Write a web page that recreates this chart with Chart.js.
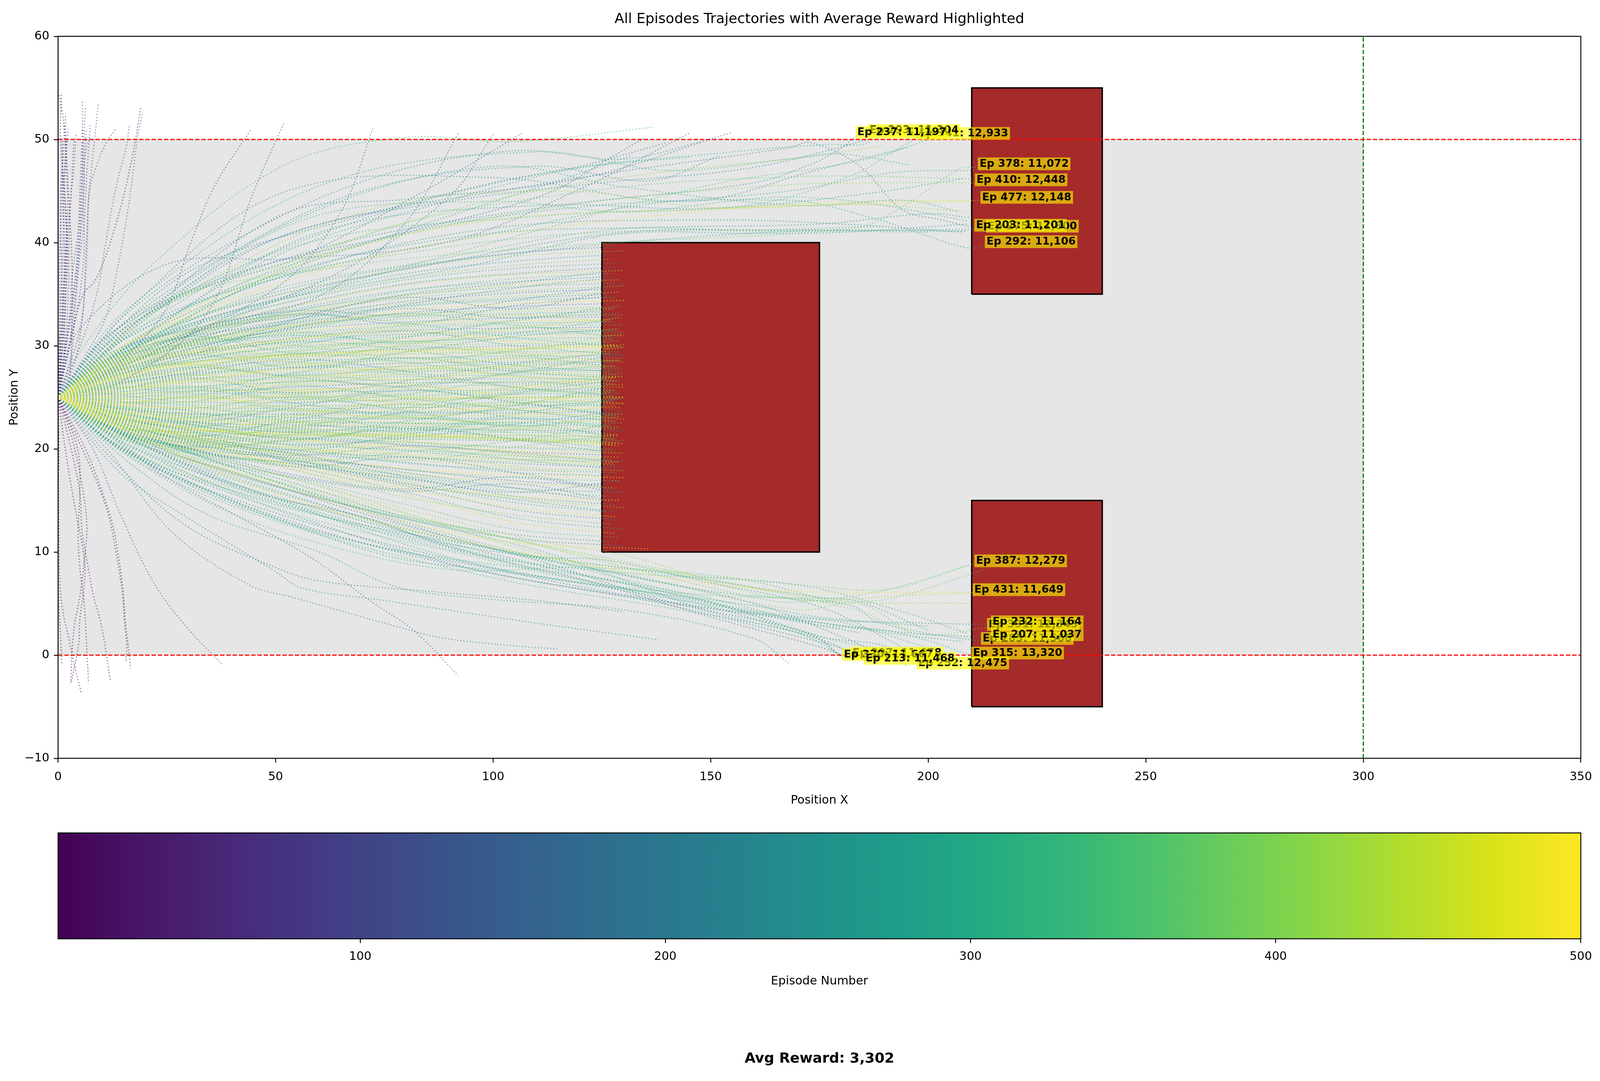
<!DOCTYPE html>
<html>
<head>
<meta charset="utf-8">
<title>All Episodes Trajectories</title>
<script src="https://cdn.jsdelivr.net/npm/chart.js@4"></script>
<style>
    html, body { margin: 0; padding: 0; background: #ffffff; overflow: hidden; }
    canvas { display: block; }
</style>
</head>
<body>
<canvas id="trajectories"></canvas>
<canvas id="colorbar"></canvas>
<script>
(function(){
    let avgReward = 3302;
    let xTicks = [0, 50, 100, 150, 200, 250, 300, 350];
    let yTicks = [-10, 0, 10, 20, 30, 40, 50, 60];
    let colorbarTicks = [100, 200, 300, 400, 500];
    let firstEpisode = 1;
    let lastEpisode = 500;

    // x0, y0, x1, y1
    let safeZone = [0, 0, 300, 50];
    let obstacles = [
        [125, 10, 175, 40],
        [210, 35, 240, 55],
        [210, -5, 240, 15]
    ];
    let boundaryY = [0, 50];
    let finishX = 300;

    let viridisStops = [
        '#440154', '#481668', '#482878', '#443983', '#3e4a89', '#375a8c',
        '#31688e', '#2b758e', '#26828e', '#21918c', '#1f9e89', '#25ab82',
        '#35b779', '#4ec36b', '#6ece58', '#90d743', '#b5de2b', '#dae319', '#fde725'
    ];

    // all of these leave from x=0, y=25
    let fanStationsX = [12, 30, 55, 80, 105];
    // episode, y at each station, last y, last x
    let fanRuns = [
        [214,21.5,19,15.8,13.2,11.3,10.6,130],
        [268,21.9,19.6,16.6,13.4,11.7,11,127],
        [342,22.3,19.3,17.1,14.6,12.2,11.4,129],
        [486,22.6,19.2,15.9,12.9,10.9,10.3,136],
        [455,22.8,20.4,17.9,15.6,12.9,11.8,128],
        [305,22.1,20,18.2,15.8,13.3,12.2,130],
        [388,23,20.9,17.9,15.3,13.6,12.7,127],
        [236,22.4,19.8,18.5,16.4,14.1,13.1,129],
        [478,23.2,21.1,18.2,16.1,14.3,13.4,128],
        [322,22.7,20.6,18.8,16.7,14.8,13.9,126],
        [419,23.3,21.2,19.1,16.9,15.2,14.3,130],
        [254,22.9,20.8,19.4,17.3,15.4,14.6,128],
        [491,22.4,20.3,18.4,16.5,15.4,15,129],
        [361,22.1,19.9,18.5,17.2,15.9,15.4,127],
        [283,22.5,20.4,18.8,17.4,16.2,15.8,130],
        [446,22.7,20.7,18.9,17.6,16.7,16.2,128],
        [198,22.3,20.1,19.1,18,16.9,16.5,126],
        [372,22.6,20.8,19.3,18,17.2,16.9,129],
        [499,22.9,21,19.4,18.1,17.5,17.2,130],
        [262,22.8,20.9,19.6,18.7,17.7,17.4,127],
        [331,23,21.2,19.9,18.6,18,17.7,128],
        [428,22.7,21.1,20,19,18.2,17.9,130],
        [229,23.1,21.3,19.8,19.2,18.6,18.2,129],
        [406,23.2,21.6,20.3,19.3,18.8,18.4,126],
        [475,23,21.4,20.1,19.5,19,18.6,128],
        [294,23.3,21.7,20.6,19.8,19,18.8,130],
        [351,23.1,21.8,20.4,19.9,19.3,19,127],
        [438,23.4,22,20.8,20,19.4,19.2,129],
        [182,23.2,21.9,21,20.4,19.7,19.4,126],
        [467,23.5,22.1,21,20.2,19.8,19.6,130],
        [312,23.3,22,21.1,20.6,20.1,19.8,128],
        [395,23.6,22.3,21.2,20.7,20.2,20,127],
        [452,23.4,21.9,21.3,21.2,20.8,20.3,129],
        [453,23.4,22,21.4,21.3,20.9,20.4,128],
        [454,23.5,22.1,21.5,21.3,20.9,20.5,130],
        [456,23.5,22,21.5,21.4,21,20.6,129],
        [247,23.4,22.2,21.6,21,20.8,20.7,127],
        [366,23.6,22.5,21.8,21.2,21,20.8,130],
        [410,23.7,22.6,21.7,21.4,21.1,21,128],
        [276,23.5,22.4,21.9,21.6,21.3,21.2,126],
        [483,23.8,22.8,22.1,21.5,21.3,21.3,129],
        [335,23.7,22.7,22,21.8,21.6,21.5,127],
        [219,23.6,22.6,22.3,22,21.8,21.7,130],
        [398,23.9,23,22.4,22,21.9,21.9,128],
        [443,23.8,22.9,22.5,22.2,22.1,22.1,129],
        [301,23.8,23.1,22.6,22.5,22.3,22.3,126],
        [347,24,23.2,22.8,22.5,22.5,22.5,130],
        [471,23.9,23.2,22.7,22.6,22.7,22.7,128],
        [258,24,23.4,23,22.9,22.9,22.9,127],
        [382,24.1,23.5,23.1,23,23.1,23.2,129],
        [424,24.1,23.6,23.3,23.2,23.3,23.4,130],
        [192,24,23.4,23.4,23.5,23.5,23.6,127],
        [338,24.2,23.8,23.6,23.6,23.7,23.8,128],
        [493,24.3,23.9,23.7,23.8,23.9,24,129],
        [288,24.3,24,23.9,24,24.2,24.2,126],
        [415,24.4,24.1,24.1,24.2,24.3,24.4,130],
        [357,24.5,24.3,24.2,24.3,24.5,24.6,128],
        [449,24.6,24.6,24.7,24.8,24.9,25,129],
        [450,24.7,24.8,25,25,25,25,130],
        [451,24.9,25,25,25,25,25,130],
        [242,24.6,24.5,24.5,24.8,25,25.2,127],
        [327,24.8,24.9,25.1,25.2,25.3,25.4,129],
        [402,25,25.1,25.3,25.4,25.5,25.6,128],
        [268,25,25.3,25.5,25.6,25.7,25.8,126],
        [469,25.2,25.5,25.7,25.8,25.9,26,130],
        [375,25.2,25.6,25.8,26,26.2,26.2,128],
        [206,25.3,25.5,26,26.4,26.4,26.4,127],
        [432,25.4,25.8,26.2,26.4,26.5,26.6,129],
        [296,25.5,26,26.5,26.7,26.8,26.8,126],
        [481,25.6,26.2,26.6,26.8,27,27,130],
        [349,25.7,26.4,26.8,27,27.2,27.2,128],
        [412,25.8,26.5,27,27.2,27.4,27.4,127],
        [251,25.8,26.7,27.2,27.5,27.6,27.6,129],
        [364,26,26.8,27.4,27.7,27.8,27.8,130],
        [459,26.1,27,27.6,27.8,28,28,128],
        [319,26.1,27.1,27.8,28,28.2,28.2,126],
        [225,26.2,27.3,27.9,28.3,28.4,28.4,127],
        [437,26.4,27.5,28.2,28.4,28.6,28.6,129],
        [384,26.4,27.6,28.3,28.6,28.8,28.8,130],
        [279,26.5,27.8,28.5,28.8,29,29,128],
        [473,26.6,28,28.7,29.2,29.2,29.2,127],
        [340,26.7,28,28.9,29.2,29.4,29.4,129],
        [460,26.8,28.2,29,29.4,29.6,29.9,130],
        [461,26.8,28.3,29.1,29.5,29.7,30,129],
        [458,26.9,28.3,29.1,29.6,29.7,30.1,130],
        [457,26.9,28.4,29.2,29.6,29.8,30.1,128],
        [234,26.8,28.4,29.2,29.7,30,30.2,127],
        [393,27,28.6,29.5,30,30.2,30.4,126],
        [425,27.1,28.8,29.8,30.2,30.5,30.6,128],
        [308,27,28.6,29.9,30.4,30.7,30.8,129],
        [489,27.3,29.1,30.1,30.6,30.9,31,130],
        [355,27.3,29.2,30.3,30.9,31.1,31.2,127],
        [265,27.2,29.1,30.5,31.1,31.3,31.4,128],
        [441,27.5,29.4,30.7,31.2,31.5,31.6,129],
        [189,27.3,29.2,30.8,31.5,31.7,31.8,126],
        [378,27.6,29.7,31,31.7,32,32,130],
        [325,27.7,29.9,31.2,31.9,32.2,32.3,128],
        [468,27.9,30.1,31.4,32.1,32.4,32.5,127],
        [245,27.7,30,31.6,32.3,32.7,32.8,129],
        [407,28,30.3,31.8,32.6,32.9,33,130],
        [299,28,30.4,32,32.8,33.1,33.3,126],
        [433,27.6,30,32,33,33.3,33.6,128],
        [369,27.8,30.3,32.3,33.1,33.5,33.8,129],
        [216,27.3,29.7,31.8,33.2,33.8,34.1,127],
        [496,28,30.5,32,33.4,34.1,34.4,130],
        [337,27.6,30.1,32.4,33.8,34.4,34.7,128],
        [274,27.9,30.6,32.6,33.9,34.6,35,126],
        [422,28.2,30.9,32.9,34.1,34.8,35.2,129],
        [201,27.7,30.2,32.6,34.3,35.1,35.5,127],
        [385,28.3,31,33.1,34.6,35.3,35.8,130],
        [316,27.9,30.8,33.4,34.9,35.7,36.1,128],
        [463,28.5,31.3,33.2,34.9,35.9,36.4,129],
        [259,28.1,31,33.6,35.4,36.2,36.7,126],
        [354,28.4,31.2,33.4,35.3,36.5,37,127],
        [444,28.6,31.5,33.9,35.9,36.9,37.3,130],
        [223,28.2,31.1,34,36,37,37.6,128],
        [302,28.7,31.8,34.4,36.4,37.5,38,129],
        [392,28.4,31.4,34.5,36.6,37.8,38.4,127],
        [278,28.9,32.1,34.9,37,38.2,38.8,126],
        [418,29.2,32.6,35.4,37.5,38.7,39.2,130],
        [184,28.6,32,35.1,37.5,39,39.6,128],
        // the wandering ones, these make most of the braid in the middle
        [360,24.3,23.2,23.8,23.1,22.3,21.4,128],
        [377,25.9,26,25.2,24.6,25.3,26.2,127],
        [400,22.8,21.6,22.6,23.4,24.4,24.9,129],
        [413,26.7,27.2,26.3,27.3,28,28.6,130],
        [330,24.4,25.1,26.6,25.9,24.6,23.4,126],
        [346,26.2,27.8,29.2,28.4,27.1,26.6,128],
        [369,23.4,21.3,22.2,24,25.6,27.1,129],
        [286,27,28.9,30.4,29.6,28.1,27.5,127],
        [238,23,21.5,20.4,21.1,22.4,23.7,130],
        [310,27.8,30,31,30.4,31.2,32.6,128],
        [272,22,20.2,20.9,21.9,21,20.1,126],
        [221,26.4,27.9,26.9,26.1,27.4,29.2,129],
        [344,21.6,19.6,18.8,19.7,20.8,22.4,127],
        [381,28.2,30.6,30,28.8,29.5,31.2,130],
        [293,25.1,25.8,24.4,23.3,23.9,24.8,128],
        [264,24.2,22.7,21.6,22.7,24.2,26,126],
        [316,29,31.5,33,32.2,30.8,29.9,129],
        [204,22.6,20.5,19.4,20.3,19.6,18.8,127],
        [436,27.2,29.3,28.4,27.6,28.9,29.8,130],
        [403,22.3,20.6,21.7,20.8,19.4,18.4,128],
        [209,23.9,22.6,24.1,25.7,24.5,23.2,128],
        [217,26.1,27.4,28.7,27.5,26,25.3,126],
        [228,24.7,23.7,22.1,23.6,25.4,26.7,129],
        [241,25.6,26.9,25.4,26.6,28.3,29.3,127],
        [250,22.9,21.2,22.9,24.4,23,21.9,130],
        [257,26.9,29.1,27.9,29.4,30.9,31.6,128],
        [263,23.7,22.4,20.9,22.2,20.9,19.7,126],
        [270,28,30.9,29.3,30.8,32.5,33.2,129],
        [277,25.3,24.6,26.1,24.9,23.8,22.7,127],
        [282,26.6,28.6,30.1,31.4,30,29.1,130],
        [289,22.5,21,19.9,21.4,22.6,21.1,128],
        [295,25.9,25.6,27.4,28.8,27.5,26.9,126],
        [304,24.1,23.9,25,23.7,22.2,23.4,129],
        [311,27.4,29.4,31.3,30.2,31.8,30.9,127],
        [318,23.2,22.1,23.3,22,23.4,24.9,130],
        [326,25.4,26.1,24.8,26.1,27.4,28.1,128],
        [333,21.9,20.3,21.4,20.3,19,18.1,126],
        [339,26.3,27.2,28.4,29.9,29.1,27.9,129],
        [348,24.6,24.2,22.6,21.7,23,22.2,127],
        [356,28.6,30.2,31.6,33.1,32,31.3,130],
        [362,23.5,23,24.4,25.3,26.6,25.7,128],
        [370,26,25.9,27.1,26.3,24.8,24.2,126],
        [374,22.2,21.6,20.2,18.9,20.2,21.4,129],
        [379,27.5,28.4,29.6,30.9,32.4,33.6,127],
        [383,24.8,25.4,23.7,24.9,26,27.4,130],
        [389,25.7,27,28.1,27.2,25.9,25.1,128],
        [396,23,22.4,21,22.4,21.5,20.6,126],
        [401,27.1,28.2,27.1,28.1,29.6,30.5,129],
        [408,24.4,23.3,24.8,24,24.7,25.7,127],
        [411,26.5,27.7,29.4,30.4,29.3,28.4,130],
        [417,22.6,20.9,22.2,23.1,22,20.9,128],
        [421,25.5,25,26.4,27.6,28.8,27.9,126],
        [427,23.6,22.9,21.9,20.9,21.9,23.1,129],
        [430,28.3,29.5,30.7,32,33,32.3,127],
        [435,24.9,24.5,25.7,25.1,23.8,22.9,130],
        [439,26.2,26.6,28,28.9,27.7,26.9,128],
        [442,21.7,20,20.8,19.4,18.3,17.2,126],
        [447,27.7,29.8,29,30.1,31.7,32.7,129],
        [465,24.2,25.1,23.9,23,24.3,25.5,127],
        [470,26.7,28.1,26.9,28,27,26.2,130],
        [474,23.3,21.7,23.2,24.4,23.3,24.2,128],
        [480,25.8,26.5,27.8,26.7,28.1,29.5,126],
        [485,22.4,21.4,19.6,20.7,19.7,18.7,129],
        [490,27.9,29.3,30.6,31.5,30.4,29.7,127],
        [494,24.5,24,25.4,26.2,25.1,24.4,130],
        [498,25.1,26.7,25.6,24.5,25.9,26.9,128],
        [173,22.2,20.1,17.4,16.1,17.3,15.8,128],
        [180,28.4,31.3,32.9,34.7,33.6,35.2,126],
        [187,23.1,21.8,18.6,17.1,15.8,16.9,129],
        [193,27.6,30.4,33.1,32.1,33.9,34.8,127],
        [199,22,20,18.3,19.2,17.7,15.9,130],
        [205,28.8,30.9,32.2,34,35.6,36.6,128],
        [211,21.8,19.7,17.2,15.9,16.6,15.1,126],
        [218,27.2,29.6,31.9,33.6,32.7,33.9,129],
        [224,23.5,21.1,19.5,17.7,16.2,14.9,127],
        [231,29.3,31.6,33.4,32.9,34.4,36,130],
        [239,22.9,20.7,18.9,16.6,15.1,13.9,128],
        [246,26.9,29,32.6,35,36.1,37.2,126]
    ];

    // episode, then x,y pairs; these pass the first obstacle or die on a boundary
    let upperRuns = [
        [96, 0,25, 10,27, 24,33, 30.5,40, 36,45.5, 44.4,51],
        [118, 0,25, 14,26.4, 34,33, 45,45, 52,51.7],
        [168, 0,25, 25,30, 52,36.2, 65,43, 72.5,51.2],
        [172, 0,25, 30,31.3, 60,34.8, 80,42, 92,50.6],
        [185, 0,25, 30,31, 65,37.2, 90,44.5, 100,50.5],
        [177, 0,25, 24,34, 55,38.5, 85,45.2, 107,50.7],
        [330, 0,25, 6,30, 22,38, 52,47.5, 80,50.2, 105,49.8, 137,51.2],
        [164, 0,25, 4.4,31.3, 25,37.9, 52,38.4, 90,40.1, 120,45.2, 145,50.6],
        [188, 0,25, 20,33, 52,42.8, 80,44.2, 120,46.2, 155,50.7],
        [212, 0,25, 20,32.6, 52,40.7, 90,44, 125,45.8, 160,47.3, 190,50.4],
        [226, 0,25, 18,34.2, 52,44.9, 100,46.3, 145,44, 175,47.1, 195,49.2],
        [248, 0,25, 22,31.7, 60,41, 110,43.6, 150,43.3, 185,44.7, 208,46.2],
        [253, 0,25, 18,30.7, 55,37.2, 100,41.4, 150,42.2, 180,41.8, 208,41],
        [261, 0,25, 16,30.8, 50,36.8, 95,40.7, 140,41.5, 175,41.8, 200,42.8, 210,42.4],
        [281, 0,25, 20,33.4, 60,43.2, 100,47.4, 130,45.4, 170,43.6, 195,44.1, 207,43],
        [297, 0,25, 22,32.5, 60,37.5, 100,40.9, 135,43.7, 168,45, 192,46.8, 212,47],
        [306, 0,25, 16,33.6, 60,45.5, 110,48.8, 140,47, 170,48.2, 180,48.6, 196,47.5],
        [320, 0,25, 14,30.6, 55,42, 100,44, 130,43, 165,44.4, 185,43.9, 209,42.1],
        [352, 0,25, 24,31.1, 70,36.5, 112,41.4, 150,45.6, 185,48, 203,50.4],
        [368, 0,25, 18,30, 70,40.6, 120,44.9, 170,46.4, 210,46.2],
        [405, 0,25, 20,31.3, 62,39.5, 105,44.6, 140,46.9, 170,48.2, 190,49.4],
        [420, 0,25, 24,33.7, 70,43, 115,45, 150,43.4, 185,43.7, 209,43],
        [245, 0,25, 12,29, 40,33.8, 90,38.2, 130,41, 165,41.2, 209,41.1],
        [269, 0,25, 14,29.2, 50,34.3, 95,37.8, 128,40.8, 160,40.9, 180,41, 209,41.8],
        [335, 0,25, 10,28, 45,34.9, 85,38.2, 128,41.3, 158,41.2, 190,41.6],
        [364, 0,25, 16,29.4, 46,36, 85,39.3, 125,41, 170,41.1, 200,41],
        [222, 0,25, 10,30.4, 36,38.1, 70,45, 110,47.4, 136,46, 152,48.4],
        [240, 0,25, 16,33.2, 45,41.2, 75,46.6, 105,48.9, 130,48.1, 148,49.8],
        [197, 0,25, 10,30.1, 32,37.6, 70,42.6, 100,45.8, 120,47.4, 140,49.7],
        [155, 0,25, 12,31.2, 40,36.9, 80,41, 112,44.7, 128,48.5, 135,50.2],
        [284, 0,25, 12,28.4, 45,36, 80,41.2, 115,46, 132,48.5],
        [303, 0,25, 15,29.6, 50,38.7, 90,44.1, 118,47.1, 145,48.3],
        [471, 0,25, 18,30.7, 60,38.5, 100,42.2, 145,43.2, 180,43.7, 209,44]
    ];
    let lowerRuns = [
        [112, 0,25, 8,20, 14,14, 22,7, 30,2.5, 38,-1],
        [158, 0,25, 10,22, 24,17.5, 42,13.3, 58,9.5, 72,5.2, 82,2.3, 92,-2],
        [210, 0,25, 12,19.6, 26,12, 44,6.8, 54,5.6, 76,3, 88,1.7, 105,0.9, 115,0.6],
        [202, 0,25, 14,18.3, 30,12.4, 50,8.5, 60,7.2, 85,6.2, 110,5.3, 130,4.2],
        [232, 0,25, 14,17.8, 28,13.8, 50,8.1, 56,6.5, 75,5.3, 110,3.1, 138,1.5],
        [260, 0,25, 16,18.8, 34,13.7, 60,10, 78,6.6, 100,5.4, 130,4.4, 160,1.6, 168,-0.8],
        [176, 0,25, 20,20.2, 45,15.8, 70,13.4, 92,10.2, 120,7.4, 150,3.7, 175,0.8, 182,-0.3],
        [196, 0,25, 20,20.6, 48,16.7, 76,13, 110,9.2, 140,5.2, 172,2.2, 180,-0.1],
        [244, 0,25, 22,21, 60,15.4, 100,10.3, 130,7.8, 160,5, 180,1.8, 195,-1],
        [274, 0,25, 24,19.5, 60,14.6, 100,10.3, 140,7.9, 175,5.6, 184,5.2, 200,2.4],
        [298, 0,25, 18,19.3, 60,13.6, 95,9.8, 130,8, 170,6.8, 195,4.1, 209,2.1],
        [313, 0,25, 20,20.2, 55,14.4, 90,9.5, 128,6.4, 170,3.5, 190,2.2, 208,1.3],
        [329, 0,25, 16,20, 50,13.2, 80,10, 122,7.6, 160,4.3, 180,3.2, 200,0.7],
        [345, 0,25, 22,20.8, 58,15.8, 90,11.7, 124,8, 150,5.2, 178,1.5, 190,0.6],
        [363, 0,25, 18,20.1, 52,14, 94,9.7, 130,6.6, 175,5.5, 191,6.4, 209,8.7],
        [376, 0,25, 24,20.6, 65,15, 100,11.7, 130,8.6, 165,5.2, 174,5.3, 190,5.4, 213,8.3],
        [399, 0,25, 26,20.5, 64,15.9, 105,10.5, 140,7, 170,4.4, 184,5, 195,2.4],
        [416, 0,25, 22,21.2, 60,16.4, 108,11.3, 132,9.5, 165,5.6, 210,5],
        [484, 0,25, 18,21.2, 55,15, 92,11.2, 130,8.2, 165,6.3, 209,6.1],
        [283, 0,25, 14,20, 40,15, 75,9.7, 100,8.2, 130,6.4, 160,4.8, 175,3.7, 200,2.8],
        [235, 0,25, 12,20.8, 36,15.4, 66,11.3, 104,8.1, 140,5.8, 168,3.4, 184,2.2],
        [255, 0,25, 16,21.2, 42,16.4, 76,12, 108,9.6, 126,9.2, 150,7, 175,4.7, 194,0.8],
        [350, 0,25, 12,20.6, 34,14.9, 58,11.1, 90,8.3, 120,8.5, 155,7.5, 180,5],
        [287, 0,25, 15,21.6, 38,17.8, 70,14.2, 110,10.2, 128,7.6, 150,4.2, 175,1.6, 179,0.2]
    ];
    // episode, reward, x,y pairs; the last pair is where the reward label goes
    let goalRuns = [
        [378, 11072, 0,25, 20,33.6, 60,37.4, 120,39.8, 183,41.4, 193,43.2, 207,47.1, 211.8,47.35],
        [410, 12448, 0,25, 24,33.9, 70,39.8, 120,43.8, 168,45.6, 190,45.8, 211.1,45.8],
        [477, 12148, 0,25, 20,31, 70,38.4, 120,41.8, 168,43.7, 190,44, 212.4,44.1],
        [203, 11201, 0,25, 14,31, 50,40.4, 110,45.6, 168,49.2, 173,49.7, 184,47.5, 194,43.2, 203,42.2, 211,41.4],
        [275, 11800, 0,25, 18,30.4, 60,36.2, 120,39.6, 168,41.1, 195,41.2, 213.7,41.3],
        [292, 11106, 0,25, 16,30.8, 60,38.7, 110,43, 168,44.1, 188,42.3, 196,41.2, 208.8,39.5, 213.4,39.8],
        [237, 11197, 0,25, 18,32.4, 60,39.4, 110,43.3, 160,45.8, 173,47.6, 179.5,49, 183.7,50.4],
        [293, 11304, 0,25, 16,31.9, 60,40.8, 110,46.6, 155,48.8, 176,49.5, 186,49.6, 186.5,50.6],
        [341, 12933, 0,25, 16,31, 55,39.7, 112,42.6, 160,43.7, 183,46.6, 190,48.3, 197.9,50.3],
        [387, 12279, 0,25, 22,18.8, 62,14, 110,9.6, 174,6.7, 191.2,6.4, 210,8.8, 211,8.86],
        [431, 11649, 0,25, 20,20.2, 60,15.9, 110,10.7, 174,5.6, 195,5.8, 210.6,6.06],
        [232, 11164, 0,25, 16,19.6, 50,13.8, 100,8.4, 140,5.2, 174,3.5, 200,3.1, 214.8,2.95],
        [391, 12343, 0,25, 20,20.8, 62,15.1, 110,10.8, 150,7.4, 184.4,4.3, 188.2,3.55, 199.1,1.97, 213.9,2.7],
        [207, 11037, 0,25, 14,20.2, 45,14.2, 90,8.8, 140,5.1, 174,3.2, 197,2.1, 214.8,1.7],
        [285, 11568, 0,25, 16,20.3, 50,14.6, 110,9.5, 150,6.2, 174,5.3, 183,4.7, 188,3.3, 200,2.1, 212.5,1.33],
        [315, 13320, 0,25, 22,19.5, 60,13.6, 110,8.7, 150,5.5, 174,3, 190,2.4, 200,1.4, 210.3,-0.08],
        [252, 12475, 0,25, 18,20, 58,14.4, 112,8.6, 150,5.1, 175,1.8, 190,0.9, 197.7,-1.06],
        [297, 11678, 0,25, 22,20, 62,14.4, 105,8.8, 150,4.7, 172,1.9, 178,1.1, 182.6,-0.08],
        [330, 11667, 0,25, 18,18.8, 50,13, 100,7.5, 140,4.6, 168,2.4, 175,1.2, 180.6,-0.23],
        [213, 11468, 0,25, 14,20.3, 45,14.9, 92,8.7, 140,4.9, 170,1.8, 180,0.7, 185.6,-0.6]
    ];
    let earlyRuns = [
        [8, 0,25, 4.2,33, 6.1,35.2, 8.3,36.2, 10.7,38.4, 13.5,42.1, 15.4,45.1, 17.7,49.7, 19,53.1],
        [4, 0,25, 1.2,28, 1.6,34, 2.2,39, 1.6,44, 0.9,48, 0.5,51, 0.8,54.4],
        [10, 0,25, 2.4,26.5, 3.1,31, 3.2,38, 2.5,44, 1.9,48.5, 1.2,52, 0.2,54.4],
        [6, 0,25, 0.7,29, 0.2,31],
        [12, 0,25, 0.2,21, 0.2,18],
        [3, 0,25, 2,19, 3.8,14.5, 6.1,9, 5.8,6, 5,3.5, 4.7,1, 3,-2.7],
        [5, 0,25, 3.2,21, 5.3,17, 6.6,12.7, 6,9, 5,5.7, 3.8,3, 3.2,0.2, 2.9,-2.7],
        [7, 0,25, 4.5,20, 5,16, 4.6,12, 5,8.5, 6,5, 6.5,1.5, 7,-2.7],
        [9, 0,25, 3,20, 5,15.7, 5.5,12, 6.6,9.3, 8,6, 10,2.8, 12,-2.4],
        [14, 0,25, 5,20.5, 8.7,17, 11.5,13.7, 13.3,10, 14.8,6, 15.3,3, 15.8,1, 15.6,-0.6],
        [16, 0,25, 6.3,20, 10,16, 12.5,12.7, 14,9.3, 15,6, 15.4,3.5, 16.1,1, 16.7,-1.3],
        [2, 0,25, 0,21, 0,8, 0.3,4, 0.6,1.5, 0.9,-1],
        [11, 0,25, 0.2,12, 0.4,7, 1.2,4, 2.5,1.6, 3.5,-0.5, 5.3,-3.6],
        [60, 0,25, 1,30, 1.6,38, 2.2,44, 1.8,48, 1.7,52.5],
        [70, 0,25, 1,31, 0.8,38, 0.5,44, 1.3,49, 1.4,51.5],
        [75, 0,25, 1.6,30, 2.4,36, 2.6,41, 3.2,46.4, 3.6,49.8],
        [58, 0,25, 0.8,32, 1.5,39, 1.2,45, 2,50],
        [85, 0,25, 2,31, 3.8,36, 4.6,40, 5.2,44, 5.6,48, 5.6,53.7],
        [92, 0,25, 2.5,30, 4,35, 5,40, 5.4,44, 5.8,49, 6.3,53.1],
        [88, 0,25, 3,29, 3.8,33, 4.8,38, 6,42, 6.5,46, 7,49, 7.4,51.4],
        [98, 0,25, 3.4,29, 5.6,33, 6.3,38, 7,44, 8,48.5, 9.3,53.5],
        [105, 0,25, 3.6,28, 5.4,32, 6.4,37, 6.8,41, 7.2,45, 9,47.6, 11.2,49.8, 13.3,51],
        [80, 0,25, 2.5,32, 3.3,37, 4.6,41, 5,45, 5.4,49, 5.6,51],
        [83, 0,25, 3.2,31, 5,35, 6,39.5, 5.8,43, 5.9,47, 6.5,51],
        [102, 0,25, 3,33, 4.4,38, 5.4,42, 6,45.5, 6.2,48.4, 7.2,50.2],
        [66, 0,25, 1.6,33, 2,39, 2.8,44, 3.7,47.6, 4.1,50.6],
        [110, 0,25, 6,31, 9.2,35.6, 10.8,39.6, 12.4,43.5, 14,46.6, 15.6,49.1, 16.4,51.4],
        [120, 0,25, 7,29.6, 11,32.8, 13.6,37.4, 15.6,42, 17,46, 18.2,50, 19.5,52.7],
        [45, 0,25, 0.4,32, 0.3,38, 0.8,44, 1,50],
        [68, 0,25, 0.6,34, 1.2,41, 1,47],
        [50, 0,25, 1,33, 1.9,40, 1.5,46, 2.3,51]
    ];

    // the browser caps the window at 4096 wide, so layout is taken as a share of
    // the real window: kx for widths and fonts, ky for heights
    let pageWidth = window.innerWidth;
    let pageHeight = window.innerHeight;
    let kx = pageWidth / 5675;
    let ky = pageHeight / 2767;
    let lineHeight = (size) => size * 1.2;

    let rewardFormat = (value) => value.toLocaleString('en-US');

    let hexToRgb = function(hex) {
        return [1, 3, 5].map((i) => parseInt(hex.substr(i, 2), 16));
    };

    let viridis = function(episode, alpha) {
        let t = (episode - firstEpisode) / (lastEpisode - firstEpisode) * (viridisStops.length - 1);
        let low = Math.min(Math.floor(t), viridisStops.length - 2);
        let a = hexToRgb(viridisStops[low]);
        let b = hexToRgb(viridisStops[low + 1]);
        let c = a.map((v, i) => Math.round(v + (b[i] - v) * (t - low)));
        return `rgba(${c[0]},${c[1]},${c[2]},${alpha})`;
    };

    let pairsToPoints = function(flat) {
        let points = [];
        for(let i = 0; i < flat.length; i += 2) {
            points.push({x: flat[i], y: flat[i + 1]});
        }
        return points;
    };

    let fanToPoints = function(row) {
        let points = [{x: 0, y: 25}];
        fanStationsX.forEach((x, i) => points.push({x: x, y: row[i + 1]}));
        points.push({x: row[row.length - 1], y: row[row.length - 2]});
        return points;
    };

    let runDataset = function(episode, points) {
        return {
            data: points,
            showLine: true,
            pointRadius: 0,
            tension: 0.35,
            borderWidth: 4.17 * kx,
            borderDash: [4.17 * kx, 6.88 * kx],
            borderCapStyle: 'butt',
            borderColor: viridis(episode, 0.5),
            order: 1000 - episode
        };
    };

    let boxDataset = function(box, fillColor, edgeColor, order) {
        let [x0, y0, x1, y1] = box;
        return {
            data: pairsToPoints([x0, y0, x0, y1, x1, y1, x1, y0, x0, y0]),
            showLine: true,
            pointRadius: 0,
            fill: 'shape',
            backgroundColor: fillColor,
            borderColor: edgeColor,
            borderWidth: edgeColor === 'transparent' ? 0 : 5 * kx,
            borderJoinStyle: 'miter',
            clip: false,
            order: order
        };
    };

    let guideDataset = function(flat, color) {
        return {
            data: pairsToPoints(flat),
            showLine: true,
            pointRadius: 0,
            borderColor: color,
            borderWidth: 4.17 * kx,
            borderDash: [15.4 * kx, 6.7 * kx],
            borderCapStyle: 'butt',
            order: 10
        };
    };

    let datasets = [];
    datasets.push(boxDataset(safeZone, '#e6e6e6', 'transparent', 9000));
    obstacles.forEach((box) => datasets.push(boxDataset(box, '#a52a2a', '#000000', 8000)));
    fanRuns.forEach((row) => datasets.push(runDataset(row[0], fanToPoints(row))));
    upperRuns.concat(lowerRuns, earlyRuns).forEach((row) => {
        datasets.push(runDataset(row[0], pairsToPoints(row.slice(1))));
    });
    goalRuns.forEach((row) => datasets.push(runDataset(row[0], pairsToPoints(row.slice(2)))));
    boundaryY.forEach((y) => datasets.push(guideDataset([0, y, 350, y], '#ff0000')));
    datasets.push(guideDataset([finishX, -10, finishX, 60], '#008000'));

    // matplotlib style closed frame round the plot
    let framePlugin = {
        id: 'frame',
        afterDraw(chart) {
            let area = chart.chartArea;
            let ctx = chart.ctx;
            ctx.save();
            ctx.strokeStyle = '#000000';
            ctx.lineWidth = 3.33 * kx;
            ctx.strokeRect(area.left, area.top, area.width, area.height);
            ctx.restore();
        }
    };

    let labelSize = 37.5 * kx;
    let rewardLabels = {
        id: 'rewardLabels',
        afterDatasetsDraw(chart) {
            let ctx = chart.ctx;
            let ordered = goalRuns.slice().sort((a, b) => b[1] - a[1]);
            ctx.save();
            ctx.font = `bold ${labelSize}px "DejaVu Sans"`;
            ctx.textBaseline = 'alphabetic';
            ordered.forEach((row) => {
                let text = `Ep ${row[0]}: ${rewardFormat(row[1])}`;
                let left = chart.scales.x.getPixelForValue(row[row.length - 2]);
                let base = chart.scales.y.getPixelForValue(row[row.length - 1]);
                let width = ctx.measureText(text).width;
                ctx.fillStyle = 'rgba(255,255,0,0.6)';
                ctx.fillRect(left - 6 * kx, base - labelSize * 0.88, width + 12 * kx, labelSize * 1.2);
                ctx.fillStyle = '#000000';
                ctx.fillText(text, left, base);
            });
            ctx.restore();
        }
    };

    let tickLength = 15 * kx;
    let axisStyle = {
        grid: {drawOnChartArea: false, drawTicks: true, tickLength: tickLength, tickWidth: 3.33 * kx, tickColor: '#000000'},
        border: {display: false}
    };

    let tickSize = 41.67 * kx;
    let titleSize = 50 * kx;
    let avgSize = 50 * kx;
    let tickFont = {family: 'DejaVu Sans', size: tickSize};
    Chart.defaults.font.family = 'DejaVu Sans';
    Chart.defaults.color = '#000000';

    let mainHeight = Math.round(2101 * ky);
    let mainCanvas = document.getElementById('trajectories');
    mainCanvas.width = pageWidth;
    mainCanvas.height = mainHeight;
    let barCanvas = document.getElementById('colorbar');
    barCanvas.width = pageWidth;
    barCanvas.height = pageHeight - mainHeight;

    let titleTop = 50 * ky - lineHeight(titleSize) / 2;

    new Chart(mainCanvas, {
        type: 'scatter',
        data: {datasets: datasets},
        plugins: [rewardLabels, framePlugin],
        options: {
            responsive: false,
            animation: false,
            devicePixelRatio: 1,
            layout: {padding: {left: 0, right: 68 * kx, top: 0, bottom: 0}},
            plugins: {
                legend: {display: false},
                tooltip: {enabled: false},
                title: {
                    display: true,
                    fullSize: false,
                    text: 'All Episodes Trajectories with Average Reward Highlighted',
                    font: {size: titleSize, weight: 'normal'},
                    color: '#000000',
                    padding: {top: titleTop, bottom: 93 * ky - titleTop - lineHeight(titleSize)}
                }
            },
            scales: {
                x: Object.assign({}, axisStyle, {
                    type: 'linear',
                    min: 0,
                    max: 350,
                    afterBuildTicks: (axis) => { axis.ticks = xTicks.map((v) => ({value: v})); },
                    afterFit: (axis) => { axis.height = 160 * ky; },
                    ticks: {font: tickFont, color: '#000000', padding: 48 * ky - tickLength - lineHeight(tickSize) / 2, maxRotation: 0},
                    title: {
                        display: true,
                        text: 'Position X',
                        font: tickFont,
                        color: '#000000',
                        padding: {top: 0, bottom: 52 * ky - lineHeight(tickSize) / 2}
                    }
                }),
                y: Object.assign({}, axisStyle, {
                    type: 'linear',
                    min: -10,
                    max: 60,
                    afterBuildTicks: (axis) => { axis.ticks = yTicks.map((v) => ({value: v})); },
                    afterFit: (axis) => { axis.width = 206 * kx; },
                    ticks: {
                        font: tickFont,
                        color: '#000000',
                        padding: 16 * kx,
                        callback: (value) => String(value).replace('-', '\u2212')
                    },
                    title: {
                        display: true,
                        text: 'Position Y',
                        font: tickFont,
                        color: '#000000',
                        padding: {top: 51 * kx - lineHeight(tickSize) / 2, bottom: 0}
                    }
                })
            }
        }
    });

    let colorbarFill = function(context) {
        let area = context.chart.chartArea;
        if(!area) {
            return '#440154';
        }
        let gradient = context.chart.ctx.createLinearGradient(area.left, 0, area.right, 0);
        viridisStops.forEach((color, i) => gradient.addColorStop(i / (viridisStops.length - 1), color));
        return gradient;
    };

    let avgTop = 108 * ky - lineHeight(avgSize) / 2;

    new Chart(barCanvas, {
        type: 'bar',
        data: {
            labels: [''],
            datasets: [{
                data: [[firstEpisode, lastEpisode]],
                backgroundColor: colorbarFill,
                barPercentage: 1,
                categoryPercentage: 1
            }]
        },
        plugins: [framePlugin],
        options: {
            indexAxis: 'y',
            responsive: false,
            animation: false,
            devicePixelRatio: 1,
            layout: {padding: {left: 206 * kx, right: 68 * kx, top: 31 * ky, bottom: 0}},
            plugins: {
                legend: {display: false},
                tooltip: {enabled: false},
                title: {
                    display: true,
                    position: 'bottom',
                    fullSize: false,
                    text: 'Avg Reward: ' + rewardFormat(avgReward),
                    font: {size: avgSize, weight: 'bold'},
                    color: '#000000',
                    padding: {top: avgTop, bottom: 164 * ky - avgTop - lineHeight(avgSize)}
                }
            },
            scales: {
                x: Object.assign({}, axisStyle, {
                    type: 'linear',
                    min: firstEpisode,
                    max: lastEpisode,
                    afterBuildTicks: (axis) => { axis.ticks = colorbarTicks.map((v) => ({value: v})); },
                    afterFit: (axis) => { axis.height = 200 * ky; },
                    ticks: {font: tickFont, color: '#000000', padding: 46 * ky - tickLength - lineHeight(tickSize) / 2, maxRotation: 0},
                    title: {
                        display: true,
                        text: 'Episode Number',
                        font: tickFont,
                        color: '#000000',
                        padding: {top: 0, bottom: 91 * ky - lineHeight(tickSize) / 2}
                    }
                }),
                y: {display: false}
            }
        }
    });
})();
</script>
</body>
</html>
